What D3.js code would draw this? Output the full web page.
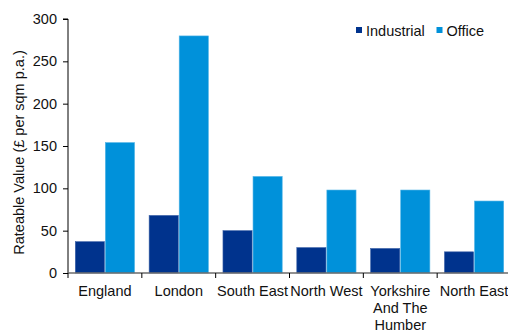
<!DOCTYPE html>
<html>
<head>
<meta charset="utf-8">
<script src="https://cdn.jsdelivr.net/npm/d3@7"></script>
<style>
  html, body { margin: 0; padding: 0; background: #fff; }
  svg { display: block; font-family: "Liberation Sans", Arial, sans-serif; }
</style>
</head>
<body>
<svg id="chart" width="508" height="331"></svg>
<script>
// Rateable value by region, £ per sqm p.a.
const regions = ["England", "London", "South East", "North West", "Yorkshire And The Humber", "North East"];
const regionLines = [["England"], ["London"], ["South East"], ["North West"], ["Yorkshire", "And The", "Humber"], ["North East"]];
const seriesNames = ["Industrial", "Office"];
const industrial = [37, 68, 50, 30, 29, 25];
const office = [154, 280, 114, 98, 98, 85];
const yTicks = [0, 50, 100, 150, 200, 250, 300];
const colors = ["#00338d", "#0091da"];

const svg = d3.select("#chart");
const margin = { left: 68, top: 19, bottom: 273, right: 511 };
const fontSize = "14.5px";

const x = d3.scaleBand().domain(regions).range([margin.left, margin.right]).paddingInner(0).paddingOuter(0);
const inner = d3.scaleBand().domain(seriesNames).range([7.3, x.bandwidth() - 7.3]).paddingInner(0.03);
const y = d3.scaleLinear().domain([0, 300]).range([margin.bottom, margin.top]);

const data = regions.map((r, i) => ({ region: r, values: [industrial[i], office[i]] }));

// bars
const groups = svg.append("g").selectAll("g").data(data).join("g")
  .attr("transform", d => `translate(${x(d.region)},0)`);
groups.selectAll("rect").data(d => d.values.map((v, k) => ({ key: seriesNames[k], v, k })))
  .join("rect")
  .attr("x", d => inner(d.key))
  .attr("width", inner.bandwidth())
  .attr("y", d => y(d.v))
  .attr("height", d => y(0) - y(d.v))
  .attr("fill", d => colors[d.k])
  .attr("stroke", d => d.k === 0 ? "#3d63a8" : "#4fb3e6")
  .attr("stroke-width", 0.6);

// y axis
const yAxis = svg.append("g").attr("transform", `translate(${margin.left},0)`)
  .call(d3.axisLeft(y).tickValues(yTicks).tickSize(5).tickPadding(6));
yAxis.select(".domain").attr("stroke", "#000").attr("d", `M-5,${y(300)}H0V${y(0)}`);
yAxis.selectAll(".tick line").attr("stroke", "#000");
yAxis.selectAll("text").attr("font-size", fontSize).attr("fill", "#111").attr("font-family", "Liberation Sans, Arial, sans-serif");

// x axis
const xAxis = svg.append("g").attr("transform", `translate(0,${margin.bottom})`);
xAxis.append("line").attr("x1", margin.left).attr("x2", margin.right)
  .attr("stroke", "#6b6b6b").attr("stroke-width", 1.5);
const tickPos = regions.map(r => x(r)).concat([margin.right]);
xAxis.selectAll("line.tk").data(tickPos).join("line").attr("class", "tk")
  .attr("x1", d => d).attr("x2", d => d).attr("y1", 0).attr("y2", 5)
  .attr("stroke", "#000").attr("stroke-width", 1);
const labels = xAxis.selectAll("text.lab").data(regions).join("text").attr("class", "lab")
  .attr("text-anchor", "middle")
  .attr("font-size", fontSize).attr("fill", "#111")
  .attr("transform", d => `translate(${x(d) + x.bandwidth() / 2},0)`);
labels.selectAll("tspan").data((d, i) => regionLines[i]).join("tspan")
  .attr("x", 0).attr("y", (d, j) => 23 + j * 16.8).text(d => d);

// y title
svg.append("text")
  .attr("transform", `translate(24,${(y(0) + y(300)) / 2 + 6.5}) rotate(-90)`)
  .attr("text-anchor", "middle").attr("font-size", fontSize).attr("fill", "#111")
  .text("Rateable Value (£ per sqm p.a.)");

// legend
const legendX = [356, 436.5];
const legend = svg.append("g").selectAll("g").data(seriesNames).join("g")
  .attr("transform", (d, i) => `translate(${legendX[i]},27)`);
legend.append("rect").attr("width", 6).attr("height", 6).attr("fill", (d, i) => colors[i]);
legend.append("text").attr("x", 10).attr("y", 8.5).attr("font-size", fontSize).attr("fill", "#111").text(d => d);
</script>
</body>
</html>
